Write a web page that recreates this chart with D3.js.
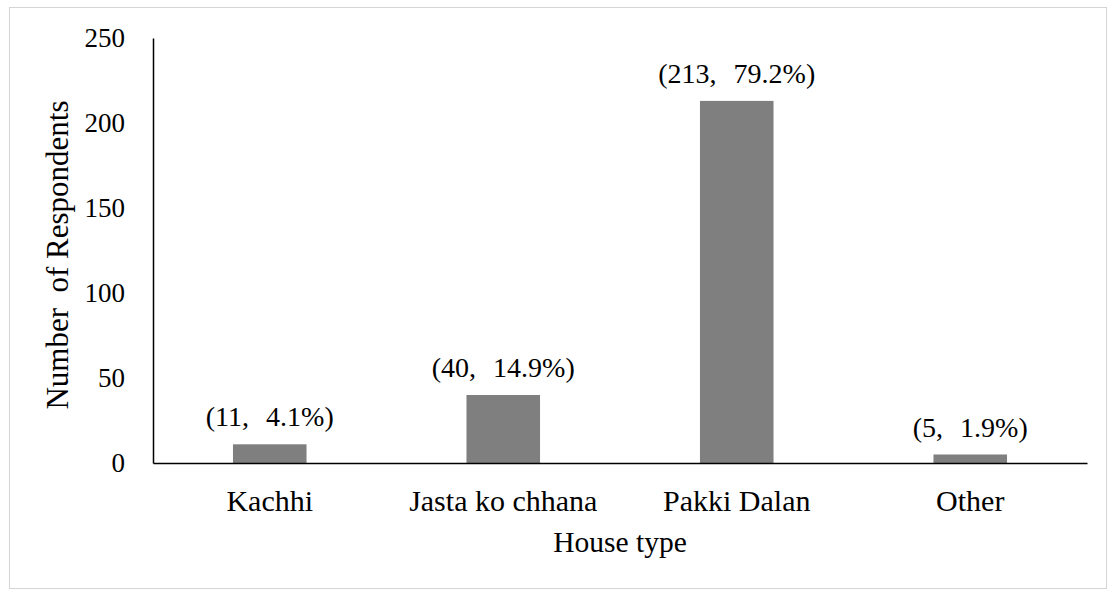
<!DOCTYPE html>
<html>
<head>
<meta charset="utf-8">
<style>
  body { margin: 0; background: #fff; }
</style>
<title>House type</title>
</head>
<body>
<script src="https://cdn.jsdelivr.net/npm/d3@7"></script>
<script>

var houseTypes = ["Kachhi", "Jasta ko chhana", "Pakki Dalan", "Other"];
var respondents = [11, 40, 213, 5];
var percents = ["4.1%", "14.9%", "79.2%", "1.9%"];
var yTicks = [0, 50, 100, 150, 200, 250];

var FONT = "'Liberation Serif', 'Times New Roman', Times, 'DejaVu Serif', serif";

var W = 1108, H = 590;
var margin = {top: 38, right: 21, bottom: 127, left: 153};
var width = W - margin.left - margin.right,
    height = H - margin.top - margin.bottom;

var svg = d3.select("body").append("svg")
    .attr("width", W)
    .attr("height", H)
    .style("font-family", FONT);

// faint frame round the picture
svg.append("rect")
    .attr("x", 9.5).attr("y", 7.5)
    .attr("width", W - 11).attr("height", H - 9)
    .attr("fill", "none")
    .attr("stroke", "#d4d4d4");

var g = svg.append("g")
    .attr("transform", "translate(" + margin.left + "," + margin.top + ")");

var x = d3.scaleBand()
    .domain(houseTypes)
    .range([0, width])
    .paddingInner(0.685)
    .paddingOuter(0.3425);

var y = d3.scaleLinear()
    .domain([0, 250])
    .range([height, 0]);

// bars
g.selectAll(".bar")
    .data(houseTypes)
  .enter().append("rect")
    .attr("class", "bar")
    .attr("x", function(d) { return x(d); })
    .attr("y", function(d, i) { return y(respondents[i]); })
    .attr("width", x.bandwidth())
    .attr("height", function(d, i) { return height - y(respondents[i]); })
    .attr("fill", "#7f7f7f");

// data labels
g.selectAll(".lbl")
    .data(houseTypes)
  .enter().append("text")
    .attr("class", "lbl")
    .attr("x", function(d) { return x(d) + x.bandwidth() / 2; })
    .attr("y", function(d, i) { return y(respondents[i]) - 18; })
    .attr("text-anchor", "middle")
    .style("font-family", FONT)
    .style("font-size", "28px")
    .style("word-spacing", "10px")
    .text(function(d, i) { return "(" + respondents[i] + ", " + percents[i] + ")"; });

// y axis
var yAxis = d3.axisLeft(y)
    .tickValues(yTicks)
    .tickSize(0)
    .tickPadding(28);

var ya = g.append("g").call(yAxis).attr("font-family", null);
ya.select(".domain").attr("stroke", "#000").attr("stroke-width", 1.5);
ya.selectAll("text")
    .style("font-family", FONT)
    .style("font-size", "27px")
    .attr("fill", "#000");

// x axis
var xAxis = d3.axisBottom(x)
    .tickSize(0)
    .tickPadding(27);

var xa = g.append("g")
    .attr("transform", "translate(0," + height + ")")
    .call(xAxis)
    .attr("font-family", null);
xa.select(".domain").attr("stroke", "#000").attr("stroke-width", 1.5);
xa.selectAll("text")
    .style("font-family", FONT)
    .style("font-size", "30px")
    .attr("fill", "#000");

// axis titles
svg.append("text")
    .attr("x", margin.left + width / 2)
    .attr("y", 552)
    .attr("text-anchor", "middle")
    .style("font-family", FONT)
    .style("font-size", "29.5px")
    .text("House type");

svg.append("text")
    .attr("transform", "translate(68,255) rotate(-90)")
    .attr("text-anchor", "middle")
    .style("font-family", FONT)
    .style("font-size", "31px")
    .style("white-space", "pre")
    .text("Number  of Respondents");

</script>
</body>
</html>
